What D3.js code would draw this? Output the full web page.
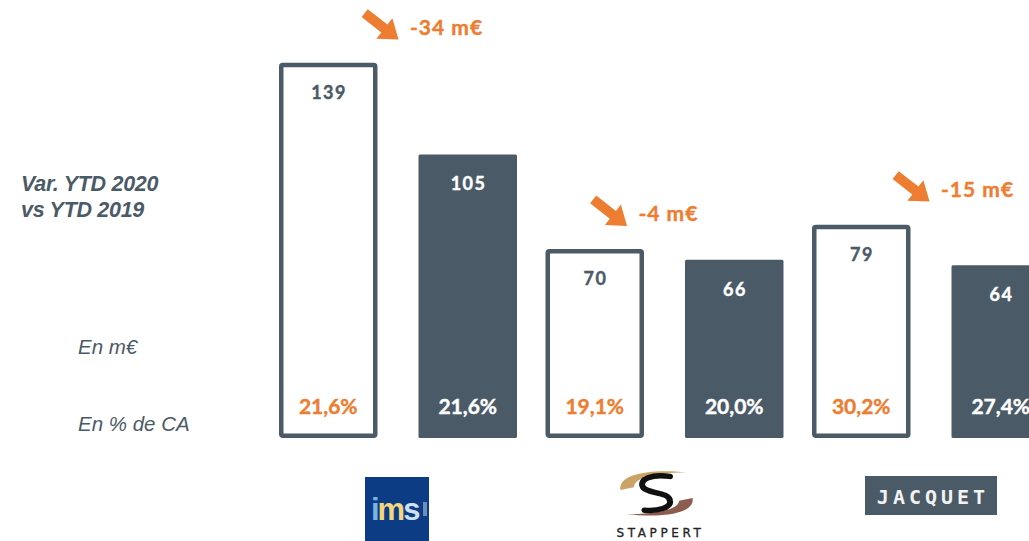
<!DOCTYPE html>
<html>
<head>
<meta charset="utf-8">
<script src="https://cdn.jsdelivr.net/npm/d3@7"></script>
<style>
  body { margin: 0; background: #fff; }
  svg { display: block; }
</style>
</head>
<body>
<script>
// data
const groups = ["IMS", "STAPPERT", "JACQUET"]
const years = ["2019", "2020"]
const values2019 = [139, 70, 79]
const values2020 = [105, 66, 64]
const pct2019 = ["21,6%", "19,1%", "30,2%"]
const pct2020 = ["21,6%", "20,0%", "27,4%"]
const variations = ["-34 m€", "-4 m€", "-15 m€"]

const W = 1029, H = 541
const dark = "#4b5a67", orange = "#ed7d31"
const numFont = "Lato, 'Open Sans', sans-serif"
const txtFont = "'Liberation Sans', Arial, sans-serif"

const svg = d3.select("body").append("svg")
    .attr("width", W)
    .attr("height", H)

const x0 = d3.scaleBand()
    .domain(groups)
    .range([279, 1050])
    .paddingInner(0.107)
    .paddingOuter(0)

const x1 = d3.scaleBand()
    .domain(years)
    .range([0, x0.bandwidth()])
    .paddingInner(0.294)
    .paddingOuter(0)

const y = d3.scaleLinear()
    .domain([0, 162.2])
    .range([438, 0])

const rows = groups.map((g, i) => ({
    g: g,
    bars: [
        {year: "2019", v: values2019[i], pct: pct2019[i]},
        {year: "2020", v: values2020[i], pct: pct2020[i]}
    ],
    variation: variations[i]
}))

// left labels
const left = svg.append("g").attr("fill", dark).attr("font-family", txtFont)
left.append("text").attr("x", 21).attr("y", 191)
    .attr("font-size", 21.5).attr("font-weight", "bold").attr("font-style", "italic")
    .attr("letter-spacing", -0.3)
    .text("Var. YTD 2020")
left.append("text").attr("x", 21).attr("y", 217)
    .attr("font-size", 21.5).attr("font-weight", "bold").attr("font-style", "italic")
    .attr("letter-spacing", -0.3)
    .text("vs YTD 2019")
left.append("text").attr("x", 78).attr("y", 354)
    .attr("font-size", 20.5).attr("font-style", "italic")
    .text("En m€")
left.append("text").attr("x", 78).attr("y", 431)
    .attr("font-size", 20.5).attr("font-style", "italic")
    .text("En % de CA")

// bars
const gGroups = svg.append("g").selectAll("g")
    .data(rows)
    .enter()
    .append("g")
    .attr("transform", d => `translate(${x0(d.g)},0)`)

const bar = gGroups.selectAll("g.bar")
    .data(d => d.bars)
    .enter()
    .append("g")
    .attr("class", "bar")

const sw = 4.5
bar.append("rect")
    .attr("x", d => x1(d.year) + (d.year == "2019" ? sw / 2 : 0))
    .attr("y", d => y(d.v) + (d.year == "2019" ? sw / 2 : 0))
    .attr("width", d => x1.bandwidth() - (d.year == "2019" ? sw : 0))
    .attr("height", d => y(0) - y(d.v) - (d.year == "2019" ? sw : 0))
    .attr("rx", 1.5)
    .attr("fill", d => d.year == "2019" ? "#fff" : dark)
    .attr("stroke", d => d.year == "2019" ? dark : "none")
    .attr("stroke-width", sw)

bar.append("text")
    .attr("x", d => x1(d.year) + x1.bandwidth() / 2 + 0.8)
    .attr("y", d => y(d.v) + 36)
    .attr("text-anchor", "middle")
    .attr("font-family", numFont)
    .attr("font-weight", "bold")
    .attr("font-size", 18)
    .attr("letter-spacing", 1.5)
    .attr("stroke", d => d.year == "2019" ? dark : "#fff")
    .attr("stroke-width", 0.4)
    .attr("fill", d => d.year == "2019" ? dark : "#fff")
    .text(d => d.v)

bar.append("text")
    .attr("x", d => x1(d.year) + x1.bandwidth() / 2)
    .attr("y", y(0) - 24)
    .attr("text-anchor", "middle")
    .attr("font-family", numFont)
    .attr("font-weight", "bold")
    .attr("font-size", 21)
    .attr("stroke", d => d.year == "2019" ? orange : "#fff")
    .attr("stroke-width", 0.4)
    .attr("fill", d => d.year == "2019" ? orange : "#fff")
    .text(d => d.pct)

// variation arrows
const nudge = [131, 93, 129]
const annot = gGroups.append("g")
    .attr("transform", (d, i) => `translate(${nudge[i]},${y(d.bars[0].v) - 28})`)

annot.append("text")
    .attr("x", 0).attr("y", 0)
    .attr("font-family", numFont)
    .attr("font-weight", "bold")
    .attr("font-size", 21)
    .attr("letter-spacing", 1)
    .attr("stroke", orange)
    .attr("stroke-width", 0.4)
    .attr("fill", orange)
    .text(d => d.variation)

const arrowPts = [[-22, -5], [3, -5], [3, -13], [21, 0], [3, 13], [3, 5], [-22, 5]]
annot.append("path")
    .attr("d", d3.line()(arrowPts) + "Z")
    .attr("fill", orange)
    .attr("transform", "translate(-28,-8) rotate(38)")

// logos
const logo = gGroups.append("g")
    .attr("transform", d => `translate(${x0.bandwidth() / 2},0)`)

// ims
const ims = logo.filter(d => d.g == "IMS")
ims.append("rect").attr("x", -33).attr("y", 477).attr("width", 64).attr("height", 64).attr("fill", "#0b3c84")
const imsT = ims.append("text").attr("x", -27).attr("y", 520)
    .attr("font-family", "'Liberation Sans', Arial, sans-serif")
    .attr("font-weight", "bold").attr("font-size", 31).attr("letter-spacing", -2)
imsT.append("tspan").attr("fill", "#7fb0e6").text("i")
imsT.append("tspan").attr("fill", "#f3d77a").text("m")
imsT.append("tspan").attr("fill", "#cfe0f2").text("s")
ims.append("rect").attr("x", 25).attr("y", 502).attr("width", 4).attr("height", 14).attr("fill", "#6d8fc0")

// stappert
const st = logo.filter(d => d.g == "STAPPERT")
const sg = st.append("g").attr("transform", "translate(-8,494) scale(1.5,1.35)")
sg.append("path")
    .attr("d", "M-24,-3 C-26,-14 -6,-19 20,-16 C-2,-16 -15,-12 -15,-5 Z")
    .attr("fill", "#c9a466")
sg.append("path")
    .attr("d", "M24,3 C26,14 6,18 -20,15 C2,15 15,11 15,5 Z")
    .attr("fill", "#8c5c4e")
sg.append("path")
    .attr("d", "M9,-13 C-3,-15 -12,-11 -9,-5 C-6,0 8,-2 9,5 C10,10 1,13 -8,12")
    .attr("fill", "none").attr("stroke", "#111").attr("stroke-width", 4).attr("stroke-linecap", "round")
st.append("text").attr("x", -4).attr("y", 537).attr("text-anchor", "middle")
    .attr("font-family", "'DejaVu Sans', sans-serif").attr("font-size", 12)
    .attr("letter-spacing", 3.6).attr("fill", "#222")
    .attr("stroke", "#222").attr("stroke-width", 0.3)
    .text("STAPPERT")

// jacquet
const jq = logo.filter(d => d.g == "JACQUET")
jq.append("rect").attr("x", -66).attr("y", 476).attr("width", 132).attr("height", 39).attr("fill", dark)
jq.append("text").attr("x", 2).attr("y", 504).attr("text-anchor", "middle")
    .attr("font-family", "'DejaVu Sans Mono', monospace").attr("font-weight", "bold")
    .attr("font-size", 20).attr("letter-spacing", 4).attr("fill", "#f2f2f2")
    .text("JACQUET")
</script>
</body>
</html>
